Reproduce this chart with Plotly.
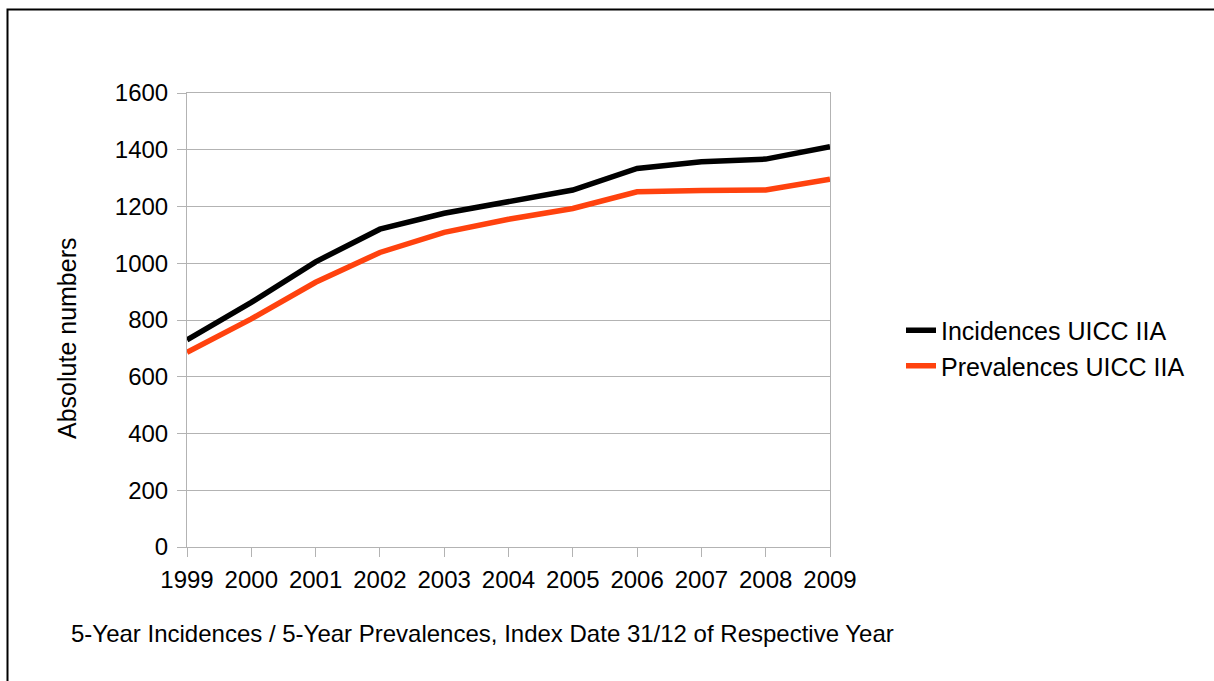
import plotly.graph_objects as go

# Index years
years = [1999, 2000, 2001, 2002, 2003, 2004, 2005, 2006, 2007, 2008, 2009]

# 5-year counts per index year
incidences = [730, 862, 1005, 1120, 1176, 1219, 1258, 1334, 1358, 1367, 1411]
prevalences = [686, 804, 933, 1038, 1109, 1155, 1193, 1252, 1256, 1258, 1296]

y_ticks = [0, 200, 400, 600, 800, 1000, 1200, 1400, 1600]

FONT = "Liberation Sans, Arial, sans-serif"
W, H = 1214, 681
L, R, T, B = 187, 830, 93, 547  # plot area in pixels


def px_x(px):
    return (px - L) / (R - L)


def px_y(py):
    return (B - py) / (B - T)


fig = go.Figure()
fig.add_trace(go.Scatter(
    x=years, y=incidences, mode="lines", name="Incidences UICC IIA",
    line=dict(color="#000000", width=5.5),
))
fig.add_trace(go.Scatter(
    x=years, y=prevalences, mode="lines", name="Prevalences UICC IIA",
    line=dict(color="#ff420e", width=5.5),
))

fig.update_layout(
    width=W, height=H,
    margin=dict(l=L, r=W - R, t=T, b=H - B, pad=0),
    paper_bgcolor="white", plot_bgcolor="white",
    font=dict(family=FONT, size=24, color="#000000"),
    showlegend=True,
    legend=dict(
        x=px_x(901), y=px_y(348), xanchor="left", yanchor="middle",
        font=dict(family=FONT, size=25, color="#000000"),
        bgcolor="rgba(0,0,0,0)", itemwidth=30, tracegroupgap=0,
    ),
    xaxis=dict(
        range=[years[0], years[-1]], tickmode="array", tickvals=years,
        ticktext=[str(y) for y in years],
        showgrid=False, zeroline=False,
        showline=True, linecolor="#b3b3b3", linewidth=1, mirror=True,
        ticks="outside", ticklen=9, tickcolor="#b3b3b3", tickwidth=1,
        ticklabelstandoff=2,
        tickfont=dict(family=FONT, size=24, color="#000000"),
    ),
    yaxis=dict(
        range=[0, 1600], tickmode="array", tickvals=y_ticks,
        showgrid=True, gridcolor="#b3b3b3", gridwidth=1, zeroline=False,
        showline=True, linecolor="#b3b3b3", linewidth=1, mirror=True,
        ticks="outside", ticklen=9, tickcolor="#b3b3b3", tickwidth=1,
        ticklabelstandoff=4,
        tickfont=dict(family=FONT, size=24, color="#000000"),
    ),
    annotations=[
        dict(
            text="Absolute numbers", textangle=-90,
            xref="paper", yref="paper", x=px_x(67), y=px_y(338),
            xanchor="center", yanchor="middle", showarrow=False,
            font=dict(family=FONT, size=25, color="#000000"),
        ),
        dict(
            text="5-Year Incidences / 5-Year Prevalences, Index Date 31/12 of Respective Year",
            xref="paper", yref="paper", x=px_x(69), y=px_y(633),
            xanchor="left", yanchor="middle", showarrow=False,
            font=dict(family=FONT, size=24, color="#000000"),
        ),
    ],
    shapes=[
        dict(
            type="rect", xref="paper", yref="paper",
            x0=px_x(7.5), x1=px_x(W + 20), y0=px_y(H + 20), y1=px_y(9.5),
            line=dict(color="#000000", width=2), fillcolor="rgba(0,0,0,0)",
            layer="below",
        ),
    ],
)

fig.write_html("out.html")
